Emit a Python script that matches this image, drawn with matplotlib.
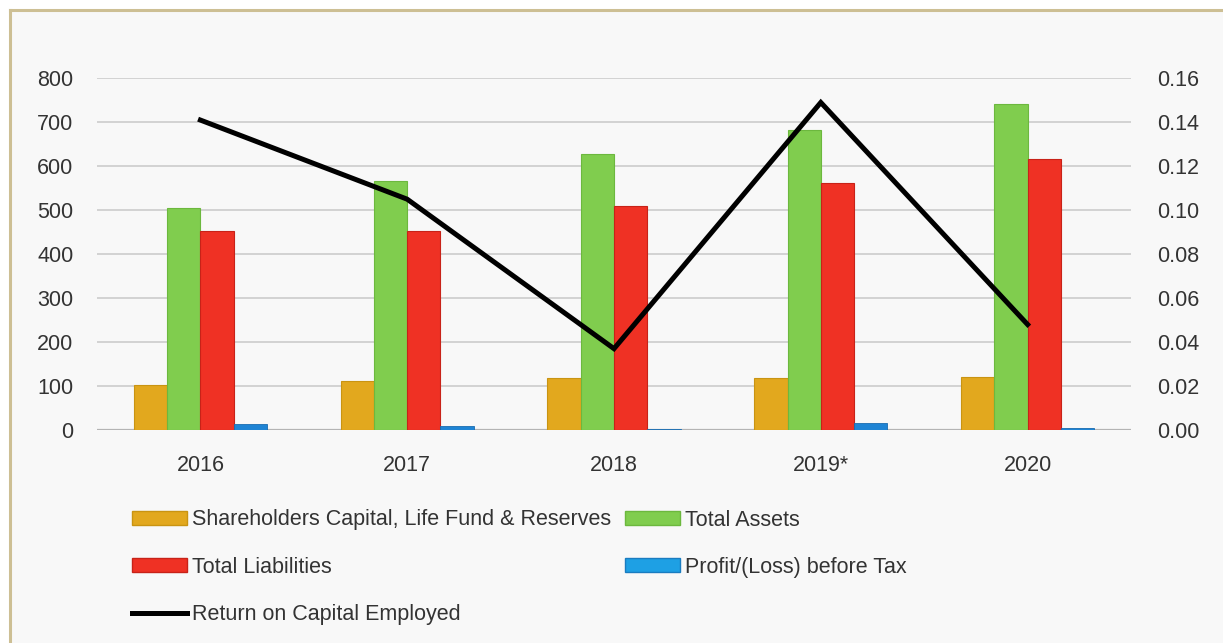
import matplotlib
matplotlib.use("Agg")
import matplotlib.pyplot as plt
from matplotlib.patches import Rectangle, Patch
from matplotlib.lines import Line2D
import numpy as np

plt.rcParams['font.family'] = ['Liberation Sans', 'DejaVu Sans']

# data
years = ['2016', '2017', '2018', '2019*', '2020']
capital_reserves = [102, 112, 118, 119, 120]
total_assets = [506, 567, 627, 682, 741]
total_liabilities = [453, 453, 510, 562, 617]
profit_before_tax = [14, 9, 3, 15, 4]
roce = [0.141, 0.105, 0.037, 0.149, 0.048]

left_ticks = list(range(0, 801, 100))
right_ticks = [0.00, 0.02, 0.04, 0.06, 0.08, 0.10, 0.12, 0.14, 0.16]

W, H = 1223, 643
fig = plt.figure(figsize=(W / 100, H / 100), dpi=100, facecolor='white')

# light panel with tan frame (only top and left edges visible, picture is cropped)
fig.add_artist(Rectangle((9.5 / W, 0), 1, 1 - 9.5 / H, transform=fig.transFigure,
                         facecolor='#f8f8f8', edgecolor='none', zorder=-5))
fig.add_artist(Line2D([9.5 / W, 9.5 / W], [0, 1 - 9.5 / H], transform=fig.transFigure,
                      color='#cdbf94', lw=2.2))
fig.add_artist(Line2D([9.5 / W, 1], [1 - 9.5 / H, 1 - 9.5 / H], transform=fig.transFigure,
                      color='#cdbf94', lw=2.2))

ax = fig.add_axes([97 / W, 1 - 430 / H, (1131 - 97) / W, (430 - 78.3) / H])
ax.set_facecolor('none')

x = np.arange(len(years))
w = 0.161
txt = '#333333'

c_orange = '#e2a81e'
c_green = '#80cd4e'
c_red = '#ef3124'
c_blue = '#1f84d4'

ax.bar(x - 1.5 * w, capital_reserves, w, color=c_orange, edgecolor='#c99412', lw=0.8, zorder=3)
ax.bar(x - 0.5 * w, total_assets, w, color=c_green, edgecolor='#6cb83e', lw=0.8, zorder=3)
ax.bar(x + 0.5 * w, total_liabilities, w, color=c_red, edgecolor='#c82218', lw=0.8, zorder=3)
ax.bar(x + 1.5 * w, profit_before_tax, w, color=c_blue, edgecolor='#1a6cb0', lw=0.6, zorder=3)

ax.set_xlim(-0.5, len(years) - 0.5)
ax.set_ylim(0, 800)
ax.set_yticks(left_ticks)
ax.set_xticks(x)
ax.set_xticklabels(years)
ax.grid(axis='y', color='#c9c9c9', lw=1.1, zorder=0)
ax.set_axisbelow(True)
ax.axhline(0, color='#b4b4b4', lw=1.6, zorder=2)
for s in ax.spines.values():
    s.set_visible(False)
ax.tick_params(axis='y', length=0, pad=17, labelsize=15.5, labelcolor=txt)
ax.tick_params(axis='x', length=0, pad=18, labelsize=15.5, labelcolor=txt)

ax2 = ax.twinx()
ax2.plot(x, roce, color='black', lw=3.6, solid_joinstyle='miter', zorder=5)
ax2.set_ylim(0, 0.16)
ax2.set_yticks(right_ticks)
ax2.set_yticklabels(['%.2f' % t for t in right_ticks])
for s in ax2.spines.values():
    s.set_visible(False)
ax2.tick_params(axis='y', length=0, pad=19, labelsize=15.5, labelcolor=txt)

# legend in two pinned columns
fs = 15.5
common = dict(frameon=False, fontsize=fs, borderpad=0, borderaxespad=0,
              handlelength=2.55, handleheight=0.6, handletextpad=0.25,
              labelspacing=1.22, loc='upper left', labelcolor=txt)
col1 = [Patch(facecolor=c_orange, edgecolor='#c99412', label='Shareholders Capital, Life Fund & Reserves'),
        Patch(facecolor=c_red, edgecolor='#c82218', label='Total Liabilities'),
        Line2D([], [], color='black', lw=3.6, label='Return on Capital Employed')]
col2 = [Patch(facecolor=c_green, edgecolor='#6cb83e', label='Total Assets'),
        Patch(facecolor='#1ea0e4', edgecolor='#1a7cc0', label='Profit/(Loss) before Tax')]
fig.legend(handles=col1, bbox_to_anchor=(132 / W, 1 - 509.5 / H), **common)
fig.legend(handles=col2, bbox_to_anchor=(625 / W, 1 - 509.5 / H), **common)

fig.savefig('out.png', dpi=100, facecolor=fig.get_facecolor())
